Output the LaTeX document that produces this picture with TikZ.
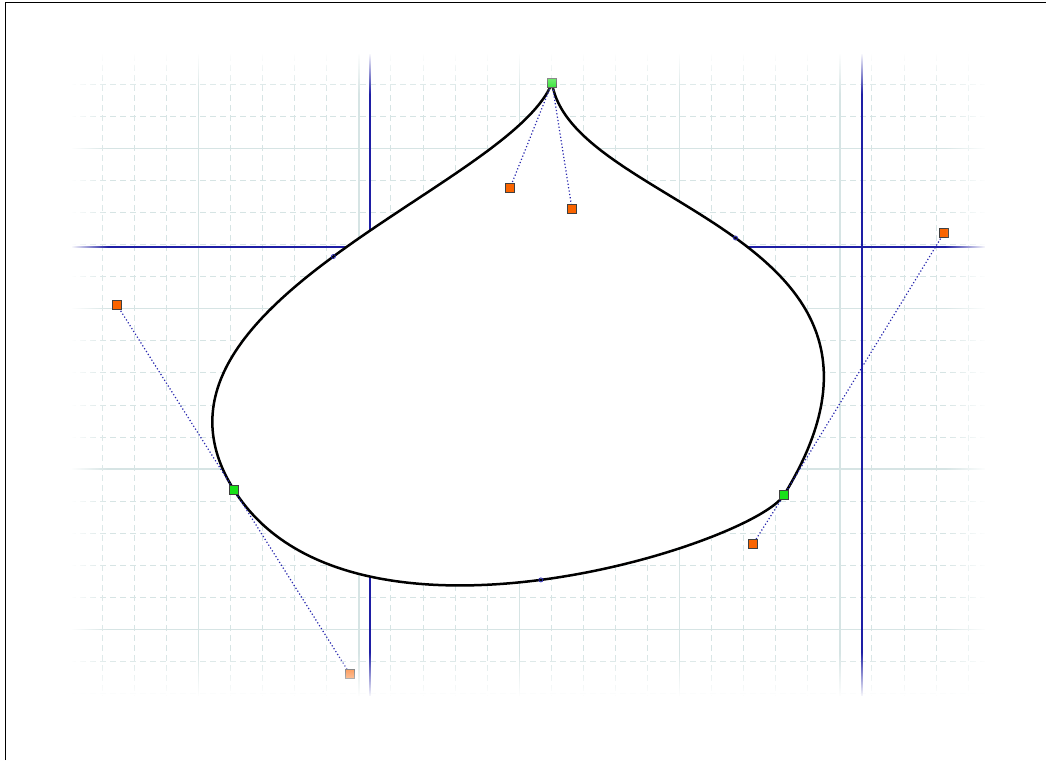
\documentclass[tikz,border=0pt]{standalone}
\usetikzlibrary{fadings}
\definecolor{gridc}{RGB}{214,228,228}
\definecolor{guide}{RGB}{30,30,165}
\definecolor{hcol}{RGB}{250,100,0}
\definecolor{acol}{RGB}{25,225,25}
\definecolor{hline}{RGB}{40,40,175}
\tikzfading[name=fadeL, left color=transparent!0, right color=transparent!100]
\tikzfading[name=fadeR, left color=transparent!100, right color=transparent!0]
\tikzfading[name=fadeT, top color=transparent!0, bottom color=transparent!100]
\tikzfading[name=fadeB, top color=transparent!100, bottom color=transparent!0]
\tikzset{
  gridminor/.style={gridc, line width=1pt, dash pattern=on 6pt off 4pt},
  gridmajor/.style={gridc, line width=1.3pt},
  guideline/.style={guide, line width=1.8pt},
  curveline/.style={black, line width=2.5pt, line join=round, fill=white},
  handleline/.style={hline, line width=1.2pt, dash pattern=on 1.2pt off 2.2pt},
  anchorpt/.style={rectangle, draw=black!75, fill=acol, minimum size=9pt, inner sep=0pt, line width=1pt},
  handlept/.style={rectangle, draw=black!75, fill=hcol, minimum size=9pt, inner sep=0pt, line width=1pt},
  midpt/.style={circle, draw=hline, line width=0.8pt, minimum size=4pt, inner sep=0pt},
  frameline/.style={black, line width=1.3pt}
}
\begin{document}
\begin{tikzpicture}[x=1pt,y=-1pt]
\useasboundingbox (0,0) rectangle (1046,760);
\fill[white] (0,0) rectangle (1046,760);
% grid
\foreach \k in {-1,...,28}{
  \pgfmathsetmacro\xx{102.3+32.07*\k}
  \pgfmathtruncatemacro\mm{mod(\k+10,5)}
  \ifnum\mm=3 \draw[gridmajor] (\xx,45) -- (\xx,700);
  \else \draw[gridminor] (\xx,45) -- (\xx,700); \fi
}
\foreach \j in {-1,...,19}{
  \pgfmathsetmacro\yy{84.3+32.07*\j}
  \pgfmathtruncatemacro\mm{mod(\j+10,5)}
  \ifnum\mm=2 \draw[gridmajor] (60,\yy) -- (990,\yy);
  \else \draw[gridminor] (60,\yy) -- (990,\yy); \fi
}
% guide lines
\coordinate (g1t) at (370,45); \coordinate (g1b) at (370,700);
\coordinate (g2t) at (862,45); \coordinate (g2b) at (862,700);
\coordinate (g3l) at (60,247); \coordinate (g3r) at (990,247);
\draw[guideline] (g1t) -- (g1b);
\draw[guideline] (g2t) -- (g2b);
\draw[guideline] (g3l) -- (g3r);
% anchors and handles
\node[anchorpt] (A) at (552,83) {};
\node[anchorpt] (B) at (234,490) {};
\node[anchorpt] (C) at (784,495) {};
\node[handlept] (A1) at (510,188) {};
\node[handlept] (A0) at (572,209) {};
\node[handlept] (B0) at (117,305) {};
\node[handlept] (B1) at (350,674) {};
\node[handlept] (C0) at (753,544) {};
\node[handlept] (C1) at (944,233) {};
% curve
\draw[curveline] (A.center) .. controls (A1.center) and (B0.center) .. (B.center)
  .. controls (B1.center) and (C0.center) .. (C.center)
  .. controls (C1.center) and (A0.center) .. (A.center) -- cycle;
% handle lines
\draw[handleline] (A.center) -- (A1.center);
\draw[handleline] (A.center) -- (A0.center);
\draw[handleline] (B.center) -- (B0.center);
\draw[handleline] (B.center) -- (B1.center);
\draw[handleline] (C.center) -- (C0.center);
\draw[handleline] (C.center) -- (C1.center);
% midpoint markers
\node[midpt] (m1) at (333.4,256.5) {};
\node[midpt] (m2) at (540.9,579.9) {};
\node[midpt] (m3) at (735.5,238.0) {};
% redraw squares on top
\node[anchorpt] at (A) {};
\node[anchorpt] at (B) {};
\node[anchorpt] at (C) {};
\node[handlept] at (A1) {};
\node[handlept] at (A0) {};
\node[handlept] at (B0) {};
\node[handlept] at (B1) {};
\node[handlept] at (C0) {};
\node[handlept] at (C1) {};
% edge fades
\fill[white] (0,0) rectangle (72,760);
\fill[white, path fading=fadeL] (71,0) rectangle (108,760);
\fill[white] (985,0) rectangle (1046,760);
\fill[white, path fading=fadeR] (945,0) rectangle (986,760);
\fill[white] (0,0) rectangle (1046,54);
\fill[white, path fading=fadeT] (0,53) rectangle (1046,94);
\fill[white] (0,696) rectangle (1046,760);
\fill[white, path fading=fadeB] (0,652) rectangle (1046,697);
% frame
\coordinate (fbl) at (5.3,760); \coordinate (ftl) at (5.3,2.5); \coordinate (ftr) at (1046,2.5);
\draw[frameline] (fbl) -- (ftl) -- (ftr);
\end{tikzpicture}
\end{document}
